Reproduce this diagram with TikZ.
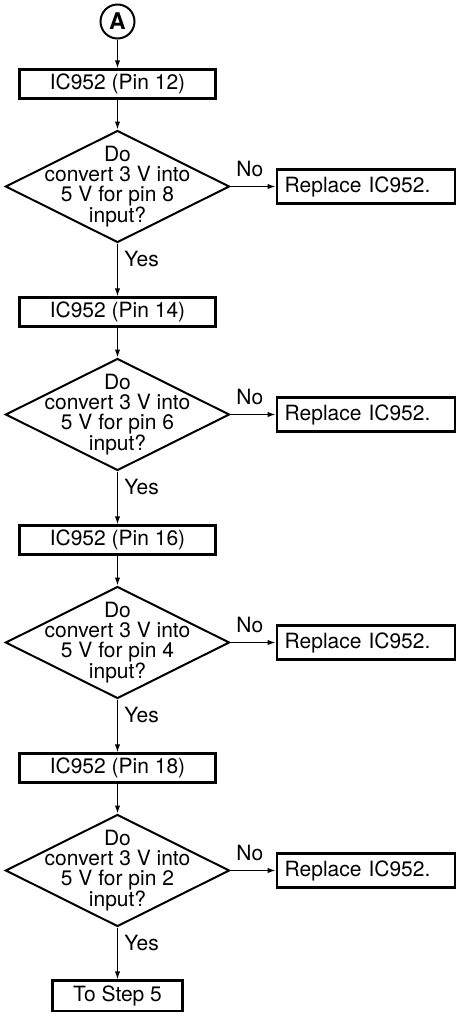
\documentclass[tikz,border=0pt]{standalone}
\usepackage{fontspec}
\setmainfont{TeX Gyre Heros}
\usepackage{tikz}
\usetikzlibrary{arrows.meta,positioning,shapes.geometric}

\begin{document}
\begin{tikzpicture}[
  x=1pt,y=1pt,
  font=\fontsize{21pt}{20pt}\selectfont,
  box/.style={draw,line width=2.4pt,minimum width=196pt,minimum height=29pt,inner sep=0pt},
  repl/.style={draw,line width=2.4pt,text width=162pt,inner xsep=8pt,inner ysep=0pt,minimum height=34pt},
  test/.style={draw,diamond,line width=2pt,minimum width=224pt,minimum height=112pt,inner sep=0pt},
  qtext/.style={align=center,inner sep=0pt},
  conn/.style={draw,circle,line width=2pt,minimum size=34pt,inner sep=0pt,
               font=\bfseries\fontsize{23pt}{23pt}\selectfont},
  arr/.style={-{Latex[length=8pt,width=5.5pt]},line width=1.3pt},
  yes/.style={pos=0.3,anchor=west,xshift=3pt},
  no/.style={pos=0.43,above=6pt}
]
  \useasboundingbox (0,0) rectangle (458,-1018);
  \node[conn] (start) at (117.5,-21.5) {A};
  \node[box,below=28.8pt of start] (pin12) {IC952 (Pin 12)};
  \node[test,below=29.8pt of pin12] (chk8) {};
  \node[qtext] at (chk8) {Do\\convert 3 V into\\5 V for pin 8\\input?};
  \node[repl,right=45pt of chk8] (rep8) {Replace IC952.};
  \node[box,below=52.8pt of chk8] (pin14) {IC952 (Pin 14)};
  \node[test,below=29.8pt of pin14] (chk6) {};
  \node[qtext] at (chk6) {Do\\convert 3 V into\\5 V for pin 6\\input?};
  \node[repl,right=45pt of chk6] (rep6) {Replace IC952.};
  \node[box,below=52.8pt of chk6] (pin16) {IC952 (Pin 16)};
  \node[test,below=29.8pt of pin16] (chk4) {};
  \node[qtext] at (chk4) {Do\\convert 3 V into\\5 V for pin 4\\input?};
  \node[repl,right=45pt of chk4] (rep4) {Replace IC952.};
  \node[box,below=52.8pt of chk4] (pin18) {IC952 (Pin 18)};
  \node[test,below=29.8pt of pin18] (chk2) {};
  \node[qtext] at (chk2) {Do\\convert 3 V into\\5 V for pin 2\\input?};
  \node[repl,right=45pt of chk2] (rep2) {Replace IC952.};
  \node[box,minimum width=130pt,minimum height=30.5pt,below=51.8pt of chk2] (step5) {To Step 5};
  % main line
  \draw[arr] (start) -- (pin12);
  \draw[arr] (pin12) -- (chk8);
  \draw[arr] (chk8) -- node[yes] {Yes} (pin14);
  \draw[arr] (pin14) -- (chk6);
  \draw[arr] (chk6) -- node[yes] {Yes} (pin16);
  \draw[arr] (pin16) -- (chk4);
  \draw[arr] (chk4) -- node[yes] {Yes} (pin18);
  \draw[arr] (pin18) -- (chk2);
  \draw[arr] (chk2) -- node[yes] {Yes} (step5);
  % no branches
  \draw[arr] (chk8) -- node[no] {No} (rep8);
  \draw[arr] (chk6) -- node[no] {No} (rep6);
  \draw[arr] (chk4) -- node[no] {No} (rep4);
  \draw[arr] (chk2) -- node[no] {No} (rep2);
\end{tikzpicture}
\end{document}
